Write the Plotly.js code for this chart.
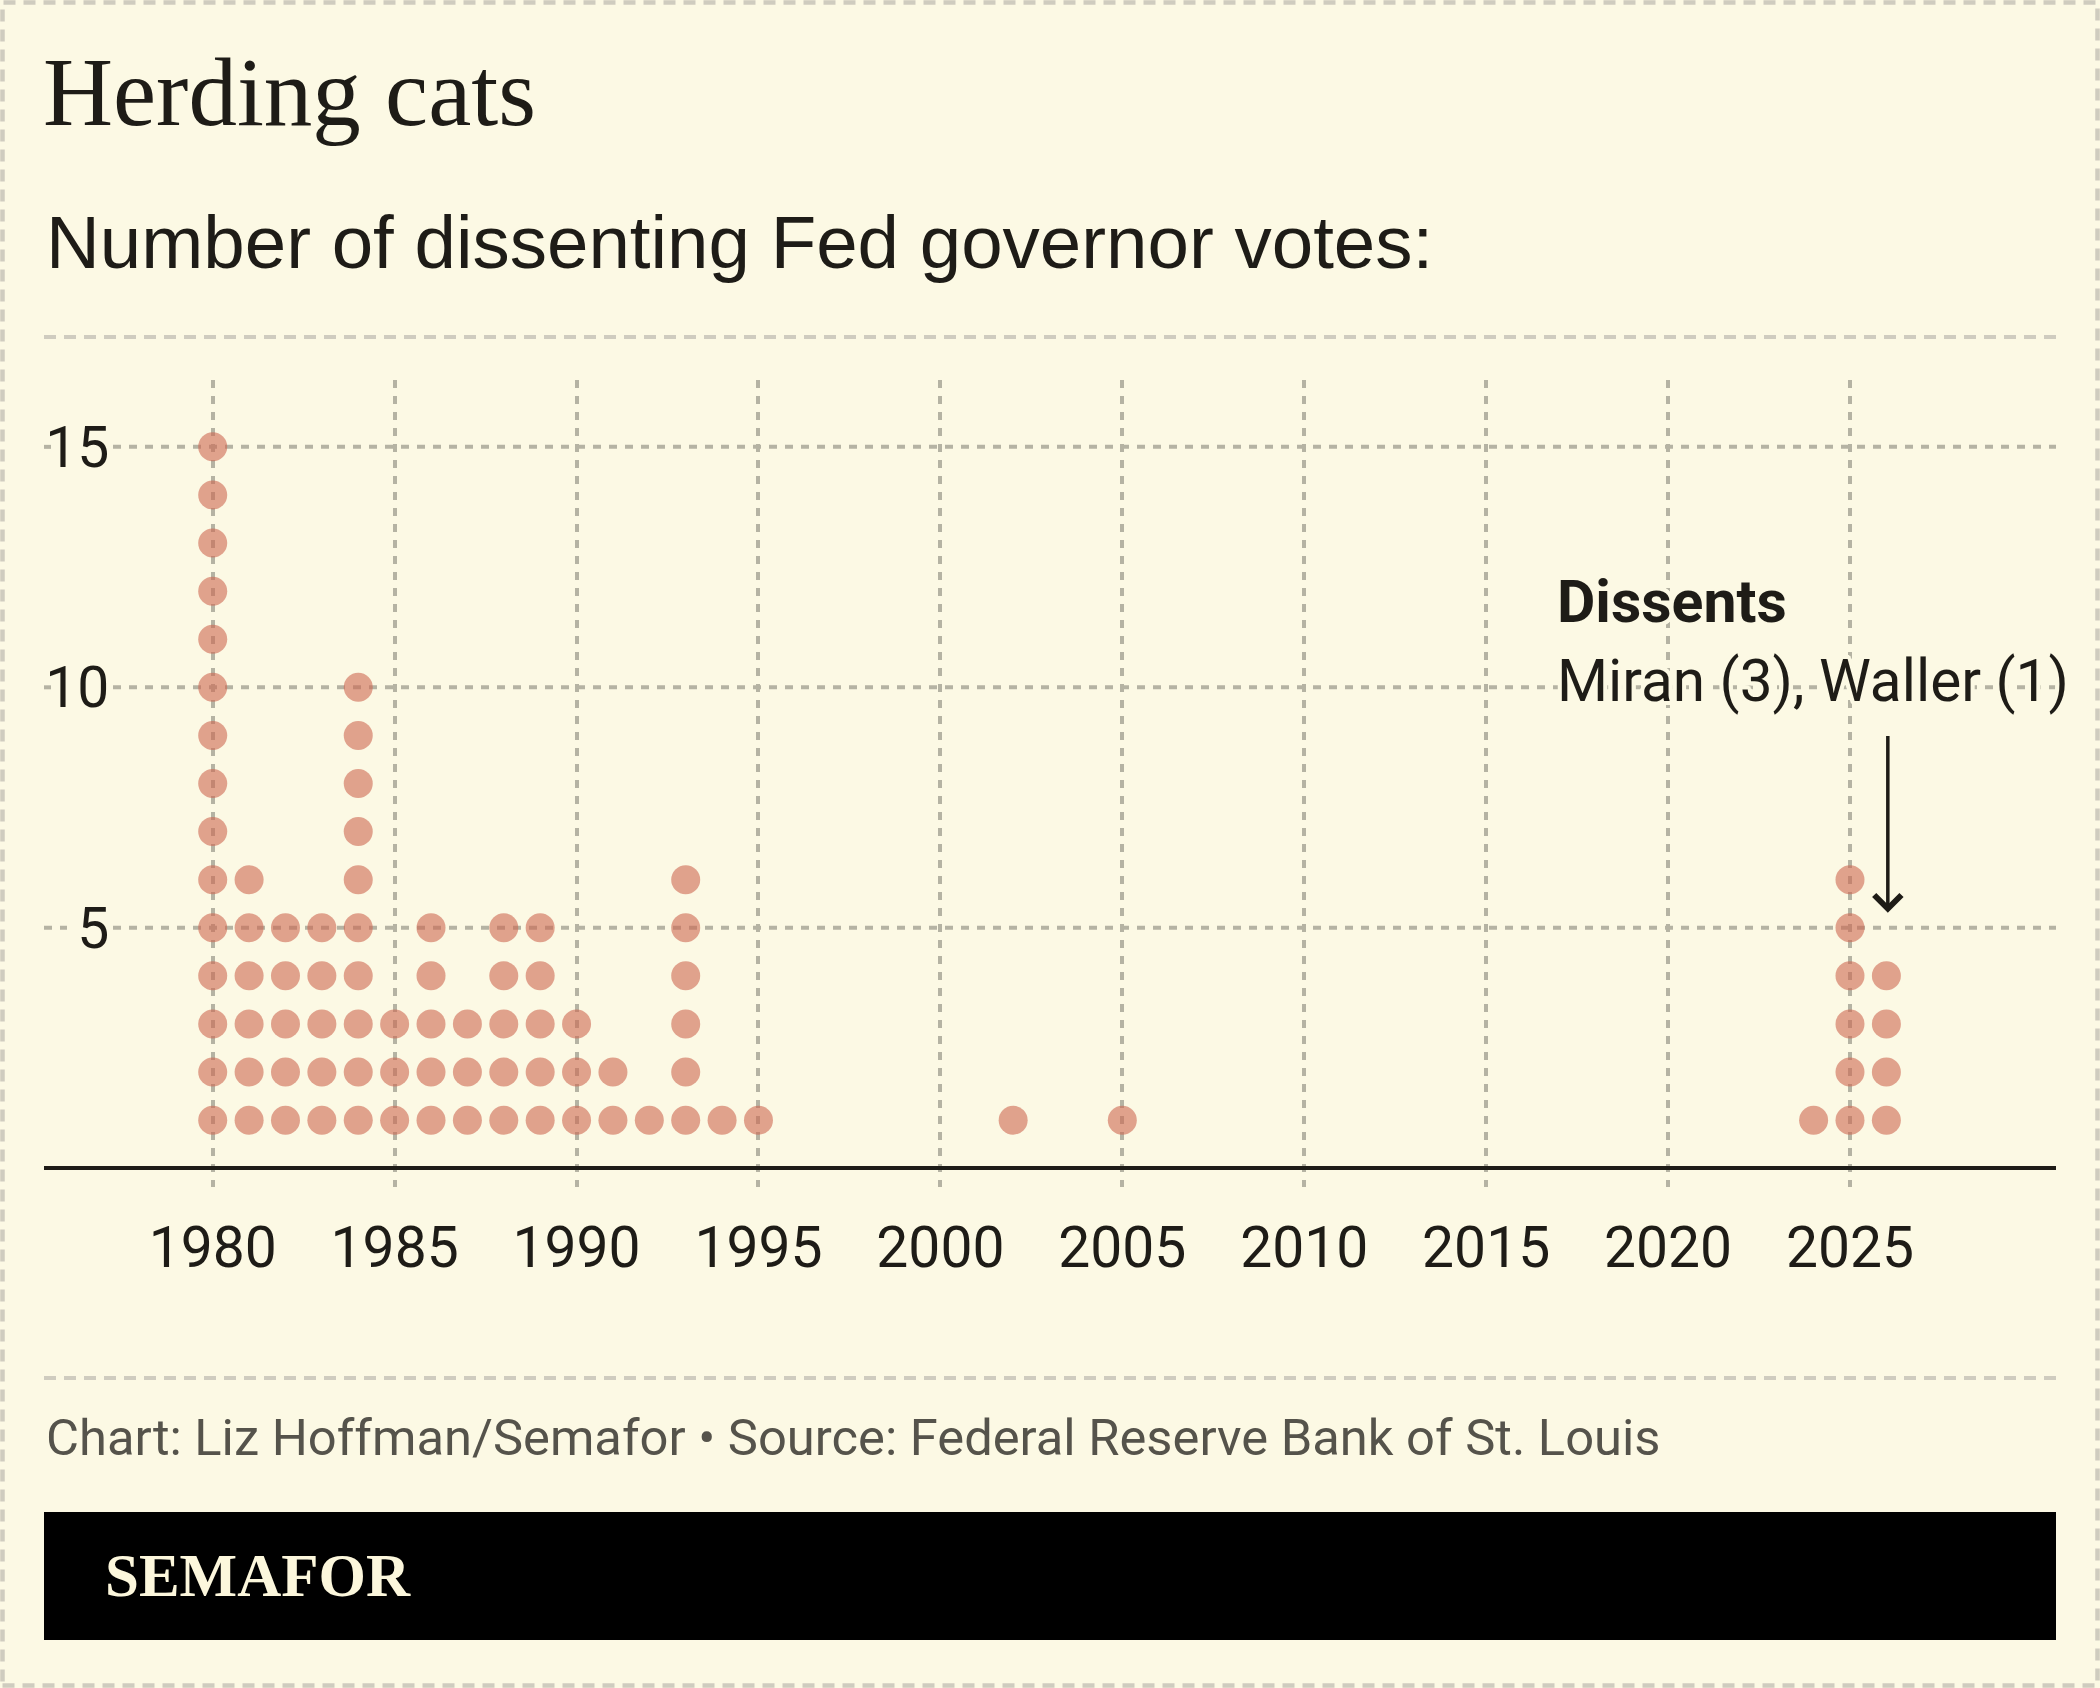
<!DOCTYPE html>
<html>
<head>
<meta charset="utf-8">
<script src="https://cdn.plot.ly/plotly-3.0.1.min.js"></script>
<style>
  html, body { margin: 0; padding: 0; background: #fcf9e4; }
  #chart { width: 2100px; height: 1688px; }
</style>
</head>
<body>
<div id="chart"></div>
<script>
// Dissenting Fed governor votes per year
const years    = [1980, 1981, 1982, 1983, 1984, 1985, 1986, 1987, 1988, 1989, 1990, 1991, 1992, 1993, 1994, 1995, 2002, 2005, 2024, 2025, 2026];
const dissents = [15,   6,    5,    5,    10,   3,    5,    3,    5,    5,    3,    2,    1,    6,    1,    1,    1,    1,    1,    6,    4];

const xTickVals = [1980, 1985, 1990, 1995, 2000, 2005, 2010, 2015, 2020, 2025];
const xTickText = ['1980', '1985', '1990', '1995', '2000', '2005', '2010', '2015', '2020', '2025'];
const yTickVals = [5, 10, 15];
const yTickText = ['5', '10', '15'];

const titleText    = 'Herding cats';
const subtitleText = 'Number of dissenting Fed governor votes:';
const noteHead     = 'Dissents';
const noteBody     = 'Miran (3), Waller (1)';
const sourceText   = 'Chart: Liz Hoffman/Semafor • Source: Federal Reserve Bank of St. Louis';
const brandText    = 'SEMAFOR';

// one dot per dissenting vote, stacked from 1 upward
const dotX = [], dotY = [];
years.forEach((yr, i) => {
  for (let k = 1; k <= dissents[i]; k++) { dotX.push(yr); dotY.push(k); }
});

const BG   = '#fcf9e4';
const INK  = '#1e1c17';
const GRID = '#b5b3a3';
const RULE = '#cfccbf';
const DOT  = 'rgb(205,104,81)';

// background-coloured halo so text sits cleanly over the grid
function halo(r) {
  const parts = [];
  for (let a = 0; a < 16; a++) {
    const t = a * Math.PI / 8;
    parts.push(`${(r * Math.cos(t)).toFixed(1)}px ${(r * Math.sin(t)).toFixed(1)}px 0 ${BG}`);
  }
  return parts.join(', ');
}

// page geometry helpers (plot area spans x 44..2056, y 380..1187)
const PL = 44, PW = 2012, PB = 1187, PH = 807;
const px = X => (X - PL) / PW;
const py = Y => (PB - Y) / PH;

const traces = [{
  type: 'scatter',
  mode: 'markers',
  x: dotX,
  y: dotY,
  marker: { size: 29, color: DOT, opacity: 0.6, line: { width: 0 } },
  hoverinfo: 'skip'
}];

// horizontal grid at each y tick, broken where the tick label sits
const gridStyle = { color: GRID, width: 4, dash: '8px,8px' };
const hGrid = [];
yTickVals.forEach((v, i) => {
  const gapStart = yTickText[i].length > 1 ? 51 : 67;
  hGrid.push({ type: 'line', xref: 'paper', yref: 'y', layer: 'below',
               x0: 0, x1: px(gapStart), y0: v, y1: v, line: gridStyle });
  hGrid.push({ type: 'line', xref: 'paper', yref: 'y', layer: 'below',
               x0: px(113), x1: 1, y0: v, y1: v, line: gridStyle });
});

const layout = {
  width: 2100,
  height: 1688,
  margin: { l: PL, r: 2100 - PL - PW, t: 380, b: 1688 - PB },
  paper_bgcolor: BG,
  plot_bgcolor: BG,
  showlegend: false,
  title: {
    text: titleText,
    font: { family: 'Liberation Serif, serif', size: 97, color: INK },
    xref: 'container', x: 43 / 2100, xanchor: 'left',
    yref: 'container', y: 1 - 91 / 1688, yanchor: 'middle'
  },
  xaxis: {
    range: [1975.363, 2030.662],
    tickvals: xTickVals,
    ticktext: xTickText,
    ticks: '',
    ticklabelstandoff: 22,
    tickfont: { family: 'Roboto, sans-serif', size: 57, color: INK },
    showgrid: true, gridcolor: GRID, gridwidth: 4, griddash: '8px,8px',
    zeroline: false, showline: false, fixedrange: true
  },
  yaxis: {
    range: [-0.39, 16.39],
    tickvals: yTickVals,
    ticktext: yTickText,
    ticks: '',
    anchor: 'free',
    position: 0.0325,
    tickfont: { family: 'Roboto, sans-serif', size: 57, color: INK },
    showgrid: false,
    zeroline: true, zerolinecolor: INK, zerolinewidth: 4,
    showline: false, fixedrange: true
  },
  shapes: [
    // dashed frame
    { type: 'rect', xref: 'paper', yref: 'paper',
      x0: px(2.5), x1: px(2097.5), y0: py(1685.5), y1: py(2.5),
      line: { color: RULE, width: 4.5, dash: '12px,8px' }, fillcolor: 'rgba(0,0,0,0)', layer: 'below' },
    // rule under the subtitle
    { type: 'line', xref: 'paper', yref: 'paper', x0: 0, x1: 1, y0: py(337), y1: py(337),
      line: { color: RULE, width: 4, dash: '12px,8px' } },
    // rule above the source line
    { type: 'line', xref: 'paper', yref: 'paper', x0: 0, x1: 1, y0: py(1378), y1: py(1378),
      line: { color: RULE, width: 4, dash: '12px,8px' } },
    // brand bar
    { type: 'rect', xref: 'paper', yref: 'paper', x0: 0, x1: 1, y0: py(1640), y1: py(1512),
      fillcolor: '#000000', line: { width: 0 } }
  ].concat(hGrid),
  annotations: [
    { text: subtitleText, xref: 'paper', yref: 'paper', x: 0, y: py(242.5),
      xanchor: 'left', yanchor: 'middle', showarrow: false,
      font: { family: 'Liberation Sans, Arial, sans-serif', size: 74.5, color: INK } },
    { text: noteHead, xref: 'x', yref: 'y', x: 2016.9, y: 11.78,
      xanchor: 'left', yanchor: 'middle', showarrow: false,
      font: { family: 'Roboto, sans-serif', size: 59, weight: 700, color: INK, shadow: halo(4) } },
    { text: noteBody, xref: 'x', yref: 'y', x: 2016.9, y: 10.14,
      xanchor: 'left', yanchor: 'middle', showarrow: false,
      font: { family: 'Roboto, sans-serif', size: 58.5, color: INK, shadow: halo(4) } },
    { text: ' ', xref: 'x', yref: 'y', x: 2026.04, y: 5.31,
      axref: 'x', ayref: 'y', ax: 2026.04, ay: 9.05,
      showarrow: true, arrowhead: 4, arrowsize: 1.5, arrowwidth: 3.5, arrowcolor: INK,
      standoff: 0, startstandoff: 0, font: { size: 2 } },
    { text: sourceText, xref: 'paper', yref: 'paper', x: 0, y: py(1437),
      xanchor: 'left', yanchor: 'middle', showarrow: false,
      font: { family: 'Roboto, sans-serif', size: 50.7, color: '#55534b' } },
    { text: brandText, xref: 'paper', yref: 'paper', x: px(103), y: py(1575.5),
      xanchor: 'left', yanchor: 'middle', showarrow: false,
      font: { family: 'Liberation Serif, serif', size: 61, weight: 700, color: '#fcf7dc' } }
  ]
};

Plotly.newPlot('chart', traces, layout, { displayModeBar: false, staticPlot: true });
</script>
</body>
</html>
